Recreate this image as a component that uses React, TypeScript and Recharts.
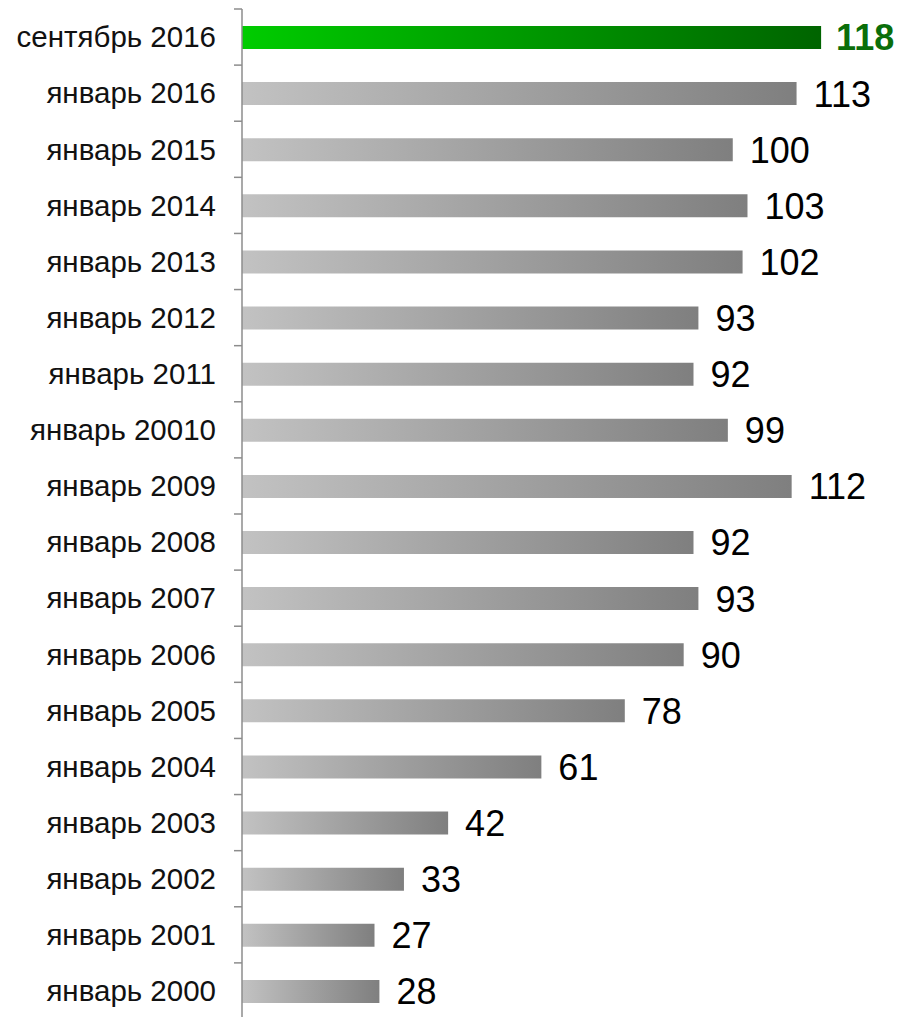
import { BarChart, Bar, XAxis, YAxis, Cell, LabelList } from "recharts";

const periods = [
  "сентябрь 2016", "январь 2016", "январь 2015", "январь 2014", "январь 2013", "январь 2012",
  "январь 2011", "январь 20010", "январь 2009", "январь 2008", "январь 2007", "январь 2006",
  "январь 2005", "январь 2004", "январь 2003", "январь 2002", "январь 2001", "январь 2000",
];

const values = [118, 113, 100, 103, 102, 93, 92, 99, 112, 92, 93, 90, 78, 61, 42, 33, 27, 28];

const data = periods.map((name, i) => ({ name, value: values[i] }));

const CHART_H = 1012;
const MARGIN = { top: 1, right: 28, bottom: 1, left: 0 };
const AXIS_W = 234;
const HALF_BAND = (CHART_H - MARGIN.top - MARGIN.bottom) / periods.length / 2;
const FONT = "'Liberation Sans', Arial, sans-serif";

const CategoryTick = (props: any) => {
  const { y, payload, index } = props;
  const last = index === periods.length - 1;
  return (
    <g>
      <line x1={AXIS_W - 8} x2={AXIS_W} y1={y - HALF_BAND} y2={y - HALF_BAND} stroke="#8c8c8c" strokeWidth={1.5} />
      {last && (
        <line x1={AXIS_W - 8} x2={AXIS_W} y1={y + HALF_BAND} y2={y + HALF_BAND} stroke="#8c8c8c" strokeWidth={1.5} />
      )}
      <text x={AXIS_W - 26} y={y} dy="0.35em" textAnchor="end" fontSize={29.5} fontFamily={FONT} fill="#111">
        {payload.value}
      </text>
    </g>
  );
};

const ValueLabel = (props: any) => {
  const { x, y, width, height, value, index } = props;
  const top = index === 0;
  return (
    <text
      x={x + width + (top ? 15 : 17)}
      y={y + height / 2}
      dy="0.36em"
      fontSize={36}
      fontFamily={FONT}
      fontWeight={top ? "bold" : "normal"}
      fill={top ? "#0a6e0a" : "#000"}
    >
      {value}
    </text>
  );
};

export default function App() {
  return (
    <div style={{ width: 900, height: CHART_H, background: "#fff" }}>
      <BarChart width={900} height={CHART_H} data={data} layout="vertical" margin={MARGIN}>
        <defs>
          <linearGradient id="grayGrad" x1="0" y1="0" x2="1" y2="0">
            <stop offset="0%" stopColor="#c2c2c2" />
            <stop offset="100%" stopColor="#7f7f7f" />
          </linearGradient>
          <linearGradient id="greenGrad" x1="0" y1="0" x2="1" y2="0">
            <stop offset="0%" stopColor="#00cc00" />
            <stop offset="100%" stopColor="#006400" />
          </linearGradient>
        </defs>
        <XAxis type="number" domain={[0, 130]} hide />
        <YAxis
          type="category"
          dataKey="name"
          width={AXIS_W}
          interval={0}
          tickLine={false}
          axisLine={{ stroke: "#8c8c8c", strokeWidth: 1.5 }}
          tick={<CategoryTick />}
        />
        <Bar dataKey="value" barSize={23} isAnimationActive={false}>
          {data.map((_, i) => (
            <Cell key={`c-${i}`} fill={i === 0 ? "url(#greenGrad)" : "url(#grayGrad)"} />
          ))}
          <LabelList dataKey="value" content={<ValueLabel />} />
        </Bar>
      </BarChart>
    </div>
  );
}
